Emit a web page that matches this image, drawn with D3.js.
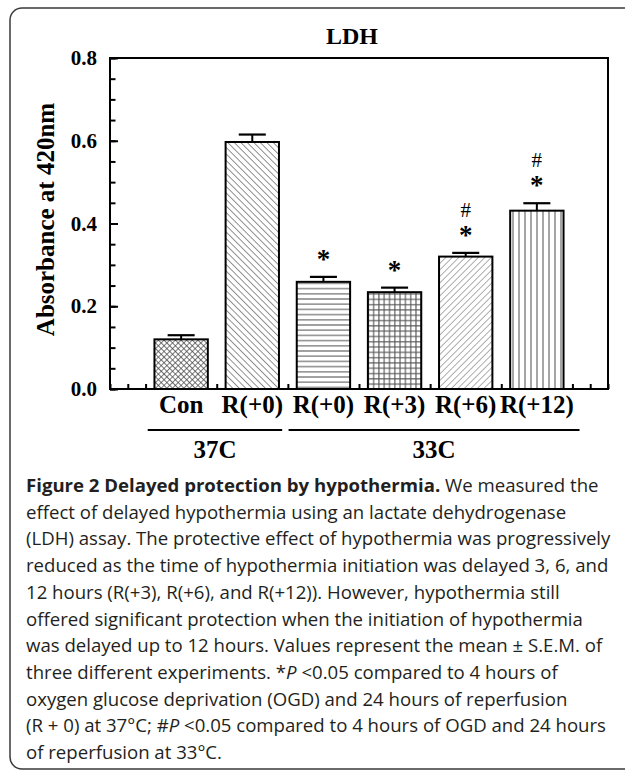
<!DOCTYPE html>
<html>
<head>
<meta charset="utf-8">
<script src="https://cdn.jsdelivr.net/npm/d3@7"></script>
<style>
  body { margin: 0; background: #fff; }
  svg { display: block; }
</style>
</head>
<body>
<svg id="chart"></svg>
<script>

// data
var categories = ["Con", "R(+0)", "R(+0)", "R(+3)", "R(+6)", "R(+12)"];
var means = [0.120, 0.597, 0.259, 0.234, 0.320, 0.431];
var sems = [0.010, 0.018, 0.012, 0.011, 0.009, 0.018];
var stars = [false, false, true, true, true, true];
var hashes = [false, false, false, false, true, true];
var fills = ["cross", "back", "horiz", "grid", "fwd", "vert"];
var groupNames = ["37C", "33C"];
var groupFirst = [0, 2];
var groupLast = [1, 5];
var yTicks = [0.0, 0.2, 0.4, 0.6, 0.8];

var captionLines = [
    [["Figure 2 Delayed protection by hypothermia.", "b"], [" We measured the", ""]],
    [["effect of delayed hypothermia using an lactate dehydrogenase", ""]],
    [["(LDH) assay. The protective effect of hypothermia was progressively", ""]],
    [["reduced as the time of hypothermia initiation was delayed 3, 6, and", ""]],
    [["12 hours (R(+3), R(+6), and R(+12)). However, hypothermia still", ""]],
    [["offered significant protection when the initiation of hypothermia", ""]],
    [["was delayed up to 12 hours. Values represent the mean \u00b1 S.E.M. of", ""]],
    [["three different experiments. *", ""], ["P", "i"], [" <0.05 compared to 4 hours of", ""]],
    [["oxygen glucose deprivation (OGD) and 24 hours of reperfusion", ""]],
    [["(R + 0) at 37\u00b0C; #", ""], ["P", "i"], [" <0.05 compared to 4 hours of OGD and 24 hours", ""]],
    [["of reperfusion at 33\u00b0C.", ""]]
];

var W = 625, H = 771;
var serif = "'Liberation Serif', 'Times New Roman', serif";

var svg = d3.select("#chart").attr("width", W).attr("height", H);

// outer panel
svg.append("rect")
    .attr("x", 10).attr("y", 8)
    .attr("width", 640).attr("height", 761)
    .attr("rx", 12)
    .attr("fill", "none")
    .attr("stroke", "#3a3a3a")
    .attr("stroke-width", 1.5);

//Patterns
var defs = svg.append("defs");
function pattern(id, size, angle, d, colour, sw) {
    var p = defs.append("pattern")
        .attr("id", id)
        .attr("patternUnits", "userSpaceOnUse")
        .attr("width", size).attr("height", size);
    if (angle) p.attr("patternTransform", "rotate(" + angle + ")");
    p.append("rect").attr("width", size).attr("height", size).attr("fill", "#fff");
    p.append("path").attr("d", d).attr("stroke", colour).attr("stroke-width", sw).attr("fill", "none");
}
pattern("cross", 4, 45, "M0,0V4M0,0H4", "#444", 1.4);
pattern("back", 4.6, -45, "M0,0V4.6", "#555", 1.3);
pattern("horiz", 5.2, 0, "M0,2.6H5.2", "#777", 1.3);
pattern("grid", 5.3, 0, "M0,2.6H5.3M2.6,0V5.3", "#555", 1.1);
pattern("fwd", 4.6, 45, "M0,0V4.6", "#777", 1.2);
pattern("vert", 6, 0, "M3,0V6", "#888", 1.5);

var x = d3.scaleLinear().domain([0, 7]).range([110, 608]);
var y = d3.scaleLinear().domain([0, 0.8]).range([389, 58]);
var unit = x(1) - x(0);

//x ticks, under the bars
svg.append("g")
    .attr("transform", "translate(0," + y(0) + ")")
    .call(d3.axisBottom(x).tickValues(d3.range(0, 7.001, 0.25)).tickSize(-5).tickFormat(""))
    .call(function (g) { g.select(".domain").remove(); })
    .selectAll("line").attr("stroke", "#000").attr("stroke-width", 2);

//y ticks
var yAxis = svg.append("g").attr("transform", "translate(" + x(0) + ",0)");
yAxis.call(d3.axisLeft(y).tickValues(d3.range(0, 0.8001, 0.05)).tickSize(-5.5).tickFormat(""));
yAxis.select(".domain").remove();
yAxis.selectAll("line").attr("stroke", "#000").attr("stroke-width", 2);

var yLab = svg.append("g").attr("transform", "translate(" + x(0) + ",0)");
yLab.call(d3.axisLeft(y).tickValues(yTicks).tickSize(-8).tickPadding(13).tickFormat(d3.format(".1f")));
yLab.select(".domain").remove();
yLab.selectAll("line").attr("stroke", "#000").attr("stroke-width", 2);
yLab.selectAll("text")
    .attr("font-family", serif).attr("font-weight", "bold").attr("font-size", 21).attr("fill", "#000");

//Draw bars
var bw = 0.75 * unit;
var bars = svg.append("g").selectAll("g").data(means).enter().append("g");

bars.append("line")
    .attr("x1", function (d, i) { return x(i + 1); })
    .attr("x2", function (d, i) { return x(i + 1); })
    .attr("y1", function (d) { return y(d); })
    .attr("y2", function (d, i) { return y(d + sems[i]); })
    .attr("stroke", "#000").attr("stroke-width", 2);

bars.append("line")
    .attr("x1", function (d, i) { return x(i + 1) - 0.19 * unit; })
    .attr("x2", function (d, i) { return x(i + 1) + 0.19 * unit; })
    .attr("y1", function (d, i) { return y(d + sems[i]); })
    .attr("y2", function (d, i) { return y(d + sems[i]); })
    .attr("stroke", "#000").attr("stroke-width", 2.2);

bars.append("rect")
    .attr("x", function (d, i) { return x(i + 1) - bw / 2; })
    .attr("y", function (d) { return y(d); })
    .attr("width", bw)
    .attr("height", function (d) { return y(0) - y(d); })
    .attr("fill", function (d, i) { return "url(#" + fills[i] + ")"; })
    .attr("stroke", "#000").attr("stroke-width", 2);

//significance marks
bars.filter(function (d, i) { return stars[i]; }).append("text")
    .attr("x", function (d) { return x(means.indexOf(d) + 1); })
    .attr("y", function (d) { var i = means.indexOf(d); return y(d + sems[i]) - 9; })
    .attr("text-anchor", "middle")
    .attr("font-family", serif).attr("font-weight", "bold").attr("font-size", 27)
    .text("*");

bars.filter(function (d, i) { return hashes[i]; }).append("text")
    .attr("x", function (d) { return x(means.indexOf(d) + 1); })
    .attr("y", function (d) { var i = means.indexOf(d); return y(d + sems[i]) - 36; })
    .attr("text-anchor", "middle")
    .attr("font-family", serif).attr("font-size", 21)
    .text("#");

//frame
svg.append("rect")
    .attr("x", x(0)).attr("y", y(0.8))
    .attr("width", x(7) - x(0)).attr("height", y(0) - y(0.8))
    .attr("fill", "none").attr("stroke", "#000").attr("stroke-width", 2);

//title
svg.append("text")
    .attr("x", 352).attr("y", 44)
    .attr("text-anchor", "middle")
    .attr("font-family", serif).attr("font-weight", "bold").attr("font-size", 24)
    .text("LDH");

svg.append("text")
    .attr("transform", "translate(54," + ((y(0) + y(0.8)) / 2 - 4) + ") rotate(-90)")
    .attr("text-anchor", "middle")
    .attr("font-family", serif).attr("font-weight", "bold").attr("font-size", 25)
    .text("Absorbance at 420nm");

//category labels
svg.append("g").selectAll("text").data(categories).enter().append("text")
    .attr("x", function (d, i) { return x(i + 1); })
    .attr("y", 413)
    .attr("text-anchor", "middle")
    .attr("font-family", serif).attr("font-weight", "bold").attr("font-size", 25)
    .text(function (d) { return d; });

//groups
var gLines = [[-0.47, 0.42], [-0.49, 0.6]];
groupNames.forEach(function (name, k) {
    var a = x(groupFirst[k] + 1 + gLines[k][0]);
    var b = x(groupLast[k] + 1 + gLines[k][1]);
    svg.append("line")
        .attr("x1", a).attr("x2", b).attr("y1", 430).attr("y2", 430)
        .attr("stroke", "#000").attr("stroke-width", 2.2);
    svg.append("text")
        .attr("x", (a + b) / 2).attr("y", 458)
        .attr("text-anchor", "middle")
        .attr("font-family", serif).attr("font-weight", "bold").attr("font-size", 25)
        .text(name);
});

//caption
var cap = svg.append("text")
    .attr("font-family", "'Open Sans', 'Noto Sans', sans-serif")
    .attr("font-size", 18.6)
    .attr("fill", "#231f20");
captionLines.forEach(function (line, li) {
    line.forEach(function (part, pi) {
        var t = cap.append("tspan").text(part[0]);
        if (pi === 0) t.attr("x", 26).attr("y", 492 + li * 26.7);
        if (part[1] === "b") t.attr("font-weight", "bold");
        if (part[1] === "i") t.attr("font-style", "italic");
    });
});

</script>
</body>
</html>
